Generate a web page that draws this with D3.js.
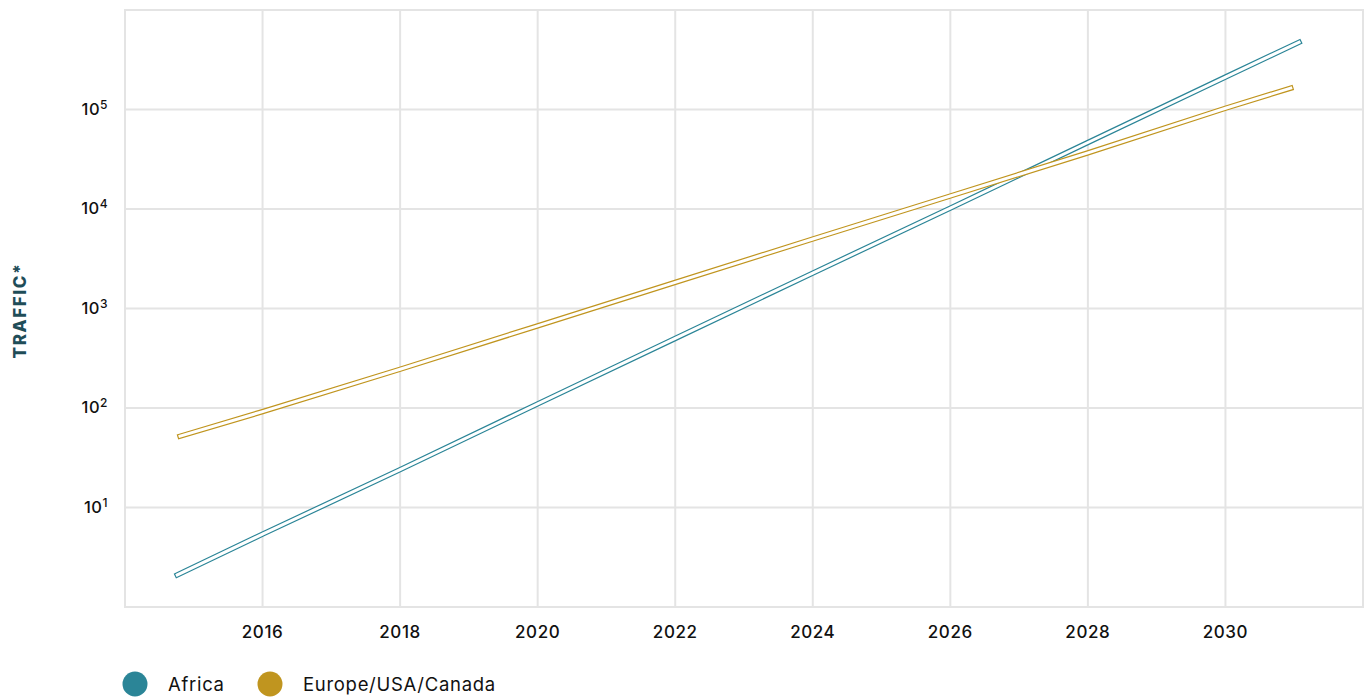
<!DOCTYPE html>
<html>
<head>
<meta charset="utf-8">
<script src="https://cdn.jsdelivr.net/npm/d3@7"></script>
<style>
  html, body { margin: 0; padding: 0; background: #ffffff; }
  svg { display: block; font-family: "Inter", "Open Sans", sans-serif; }
</style>
</head>
<body>
<svg id="chart" width="1370" height="697"></svg>
<script>
// Traffic growth, log scale
const africaYears   = [2014.76, 2016, 2018, 2020, 2022, 2024, 2026, 2028, 2030, 2031.07];
const africaTraffic = [2.1, 5.4, 24, 110, 500, 2270, 10200, 46600, 212000, 474000];

const europeYears   = [2014.8, 2016, 2018, 2020, 2022, 2024, 2026, 2028, 2030, 2030.95];
const europeTraffic = [52, 92, 245, 670, 1830, 5000, 13500, 36700, 103000, 164000];

const seriesNames  = ["Africa", "Europe/USA/Canada"];
const seriesColors = ["#2b8597", "#c0951f"];

const xTicks = [2016, 2018, 2020, 2022, 2024, 2026, 2028, 2030];
const yTicks = [10, 100, 1000, 10000, 100000];
const yTickExponents = ["1", "2", "3", "4", "5"];
const yTitle = "TRAFFIC*";

const svg = d3.select("#chart");
const margin = { left: 125, right: 7, top: 10, bottom: 90 };
const W = 1370, H = 697;

const x = d3.scaleLinear().domain([2014, 2032]).range([margin.left, W - margin.right]);
const y = d3.scaleLog().domain([1, 1e6]).range([H - margin.bottom, margin.top]);

const grid = svg.append("g");
const gridColor = "#e4e4e4";

// vertical grid
grid.selectAll("line.vx").data(xTicks).join("line")
  .attr("x1", d => x(d)).attr("x2", d => x(d))
  .attr("y1", y.range()[1]).attr("y2", y.range()[0])
  .attr("stroke", gridColor).attr("stroke-width", 2);

// horizontal grid
grid.selectAll("line.hy").data(yTicks).join("line")
  .attr("x1", x.range()[0]).attr("x2", x.range()[1])
  .attr("y1", d => y(d)).attr("y2", d => y(d))
  .attr("stroke", gridColor).attr("stroke-width", 2);

// frame
grid.append("rect")
  .attr("x", x.range()[0]).attr("y", y.range()[1])
  .attr("width", x.range()[1] - x.range()[0])
  .attr("height", y.range()[0] - y.range()[1])
  .attr("fill", "none").attr("stroke", gridColor).attr("stroke-width", 2);

// x tick labels
svg.append("g").selectAll("text").data(xTicks).join("text")
  .attr("x", d => x(d)).attr("y", 638)
  .attr("text-anchor", "middle")
  .attr("font-size", 17).attr("font-weight", 500).attr("letter-spacing", 0.6)
  .attr("fill", "#111")
  .text(d => d);

// y tick labels: 10 with superscript exponent
const yl = svg.append("g").selectAll("text").data(yTicks).join("text")
  .attr("x", 108).attr("y", d => y(d) + 5)
  .attr("text-anchor", "end")
  .attr("font-size", 16.5).attr("font-weight", 500).attr("letter-spacing", 0.5)
  .attr("fill", "#111");
yl.append("tspan").text("10");
yl.append("tspan").attr("dy", -6).attr("font-size", 12).text((d, i) => yTickExponents[i]);

// y title
svg.append("text")
  .attr("transform", `translate(26,${(y.range()[0] + y.range()[1]) / 2 + 2}) rotate(-90)`)
  .attr("text-anchor", "middle")
  .attr("font-size", 17).attr("font-weight", 800).attr("letter-spacing", 1.6)
  .attr("fill", "#1f4d58")
  .text(yTitle);

// series lines drawn as outlined ribbons
const line = d3.line().x(d => x(d[0])).y(d => y(d[1]));
const series = [
  d3.zip(africaYears, africaTraffic),
  d3.zip(europeYears, europeTraffic)
];
const lines = svg.append("g");
series.forEach((pts, i) => {
  lines.append("path").attr("d", line(pts))
    .attr("fill", "none").attr("stroke", seriesColors[i])
    .attr("stroke-width", 5.4).attr("stroke-linecap", "square");
  lines.append("path").attr("d", line(pts))
    .attr("fill", "none").attr("stroke", "#ffffff")
    .attr("stroke-width", 3).attr("stroke-linecap", "square");
});

// legend
const legendX = [135, 270];
const lg = svg.append("g").selectAll("g").data(seriesNames).join("g")
  .attr("transform", (d, i) => `translate(${legendX[i]},684)`);
lg.append("circle").attr("r", 12.5).attr("fill", (d, i) => seriesColors[i]);
lg.append("text").attr("x", 33).attr("y", 7)
  .attr("font-size", 18.5).attr("letter-spacing", 0.7)
  .attr("fill", "#111").text(d => d);
</script>
</body>
</html>
